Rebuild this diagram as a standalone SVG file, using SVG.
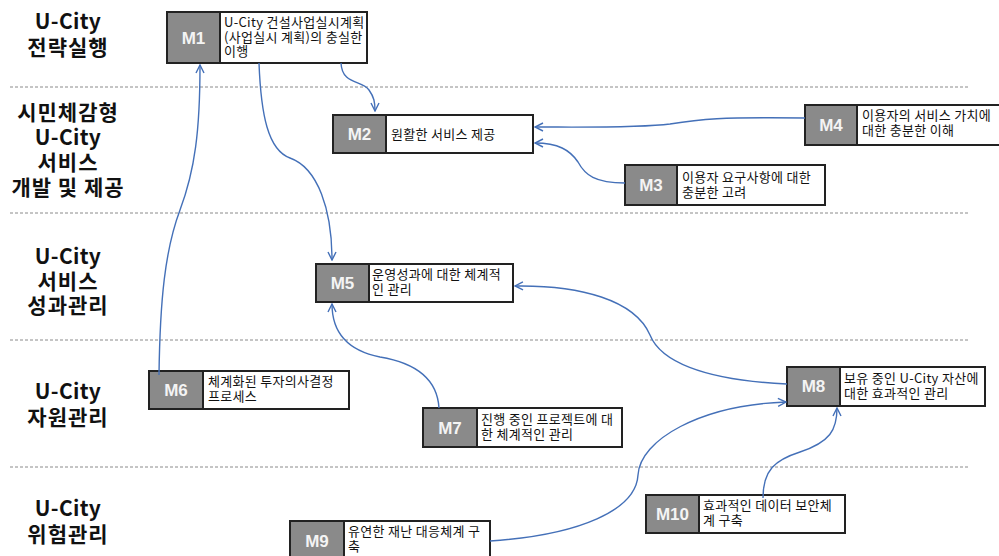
<svg xmlns="http://www.w3.org/2000/svg" width="999" height="556" viewBox="0 0 999 556">
<style>
.bg{fill:#ffffff}
.sep{stroke:#8a8a8a;stroke-width:1;stroke-dasharray:3,2;fill:none}
.lbl{font-family:"Noto Sans CJK KR","Liberation Sans",sans-serif;font-weight:bold;font-size:21px;letter-spacing:1px;fill:#111;text-anchor:middle}
.lat{letter-spacing:0.3px}
.box{fill:#ffffff;stroke:#222;stroke-width:2}
.tag{fill:#8a8a8a;stroke:#222;stroke-width:2}
.tid{font-family:"Liberation Sans","Noto Sans CJK KR",sans-serif;font-weight:bold;font-size:17px;fill:#f4f4f4;text-anchor:middle}
.txt{font-family:"Noto Sans CJK KR","Liberation Sans",sans-serif;font-size:13px;letter-spacing:0.3px;fill:#111}
.con{fill:none;stroke:#4470b8;stroke-width:1.4;marker-end:url(#arr)}
</style>
<defs>
<marker id="arr" viewBox="0 0 10 10" refX="9" refY="5" markerWidth="10" markerHeight="10" markerUnits="userSpaceOnUse" orient="auto">
<path d="M1,1 L9,5 L1,9" fill="none" stroke="#4470b8" stroke-width="1.4"/>
</marker>
</defs>
<rect class="bg" x="0" y="0" width="999" height="556"/>
<g id="separators">
<line class="sep" x1="10" y1="87" x2="968" y2="87"/>
<line class="sep" x1="10" y1="213" x2="968" y2="213"/>
<line class="sep" x1="10" y1="340" x2="968" y2="340"/>
<line class="sep" x1="10" y1="467" x2="968" y2="467"/>
</g>
<g id="lanes">
<text class="lbl lat" x="68" y="29">U-City</text>
<text class="lbl" x="68" y="55">전략실행</text>
<text class="lbl" x="68" y="120">시민체감형</text>
<text class="lbl lat" x="68" y="145">U-City</text>
<text class="lbl" x="68" y="170">서비스</text>
<text class="lbl" x="68" y="195">개발 및 제공</text>
<text class="lbl lat" x="68" y="264">U-City</text>
<text class="lbl" x="68" y="289">서비스</text>
<text class="lbl" x="68" y="313">성과관리</text>
<text class="lbl lat" x="68" y="399">U-City</text>
<text class="lbl" x="68" y="425">자원관리</text>
<text class="lbl lat" x="68" y="516">U-City</text>
<text class="lbl" x="68" y="542">위험관리</text>
</g>
<g id="M1">
<rect class="box" x="167" y="12" width="200" height="51"/>
<rect class="tag" x="167" y="12" width="53" height="51"/>
<text class="tid" x="193.5" y="44">M1</text>
<text class="txt" x="224" y="27">U-City 건설사업실시계획</text>
<text class="txt" x="224" y="41.5">(사업실시 계획)의 충실한</text>
<text class="txt" x="224" y="56">이행</text>
</g>
<g id="M2">
<rect class="box" x="333" y="115" width="200" height="38"/>
<rect class="tag" x="333" y="115" width="53" height="38"/>
<text class="tid" x="359.5" y="140">M2</text>
<text class="txt" x="391" y="139">원활한 서비스 제공</text>
</g>
<g id="M3">
<rect class="box" x="625" y="165" width="200" height="40"/>
<rect class="tag" x="625" y="165" width="52" height="40"/>
<text class="tid" x="651" y="191">M3</text>
<text class="txt" x="682" y="181.5">이용자 요구사항에 대한</text>
<text class="txt" x="682" y="196.5">충분한 고려</text>
</g>
<g id="M4">
<rect class="box" x="805" y="105" width="200" height="40"/>
<rect class="tag" x="805" y="105" width="52" height="40"/>
<text class="tid" x="831" y="131">M4</text>
<text class="txt" x="862" y="120">이용자의 서비스 가치에</text>
<text class="txt" x="862" y="135">대한 충분한 이해</text>
</g>
<g id="M5">
<rect class="box" x="316" y="264" width="197" height="38"/>
<rect class="tag" x="316" y="264" width="53" height="38"/>
<text class="tid" x="342.5" y="289">M5</text>
<text class="txt" x="372" y="279">운영성과에 대한 체계적</text>
<text class="txt" x="372" y="294">인 관리</text>
</g>
<g id="M6">
<rect class="box" x="149" y="371" width="200" height="38"/>
<rect class="tag" x="149" y="371" width="54" height="38"/>
<text class="tid" x="176" y="396">M6</text>
<text class="txt" x="208" y="386">체계화된 투자의사결정</text>
<text class="txt" x="208" y="401">프로세스</text>
</g>
<g id="M7">
<rect class="box" x="423" y="408" width="199" height="39"/>
<rect class="tag" x="423" y="408" width="54" height="39"/>
<text class="tid" x="450" y="434">M7</text>
<text class="txt" x="481" y="423.5">진행 중인 프로젝트에 대</text>
<text class="txt" x="481" y="438.5">한 체계적인 관리</text>
</g>
<g id="M8">
<rect class="box" x="787" y="367" width="198" height="39"/>
<rect class="tag" x="787" y="367" width="53" height="39"/>
<text class="tid" x="813.5" y="392">M8</text>
<text class="txt" x="844" y="382.5">보유 중인 U-City 자산에</text>
<text class="txt" x="844" y="397.5">대한 효과적인 관리</text>
</g>
<g id="M9">
<rect class="box" x="290" y="521" width="200" height="40"/>
<rect class="tag" x="290" y="521" width="54" height="40"/>
<text class="tid" x="317" y="547">M9</text>
<text class="txt" x="348" y="536">유연한 재난 대응체계 구</text>
<text class="txt" x="348" y="551">축</text>
</g>
<g id="M10">
<rect class="box" x="646" y="495" width="199" height="38"/>
<rect class="tag" x="646" y="495" width="53" height="38"/>
<text class="tid" x="672.5" y="520">M10</text>
<text class="txt" x="703" y="510">효과적인 데이터 보안체</text>
<text class="txt" x="703" y="525">계 구축</text>
</g>
<g id="connectors">
<path class="con" d="M341,63 C342,85 362,80 369,90 C374,97 375,102 375,111"/>
<path class="con" d="M259,63 C261,115 268,150 290,158 C318,168 332,210 332,260"/>
<path class="con" d="M805,118 C720,117 700,119 670,124 C640,128 580,127 535,127"/>
<path class="con" d="M625,183 C595,183 585,175 578,162 C570,150 558,143 535,143"/>
<path class="con" d="M159,375 C160,300 165,250 180,210 C195,170 200,130 200,65"/>
<path class="con" d="M439,408 C437,375 410,362 380,357 C345,350 332,330 332,304"/>
<path class="con" d="M787,384 C700,380 660,360 650,335 C635,300 580,285 515,286"/>
<path class="con" d="M490,541 C580,535 636,510 638,475 C640,440 700,405 786,402"/>
<path class="con" d="M763,498 C763,470 775,460 800,452 C830,442 837,430 837,408"/>
</g>
</svg>
